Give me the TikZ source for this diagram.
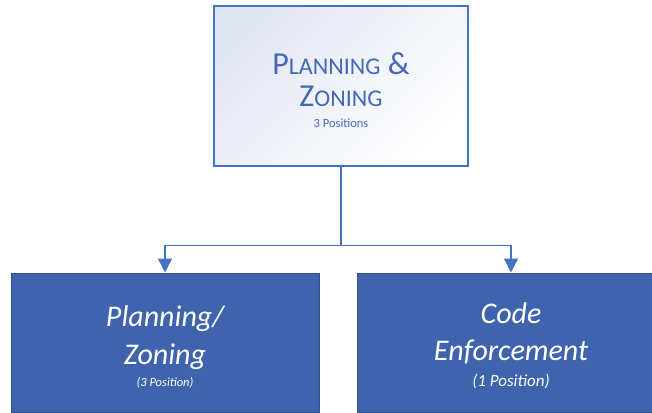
\documentclass[tikz,border=0pt]{standalone}
\usepackage{fontspec}
\setmainfont{Carlito}
\usetikzlibrary{arrows.meta,positioning}

\definecolor{orgblue}{RGB}{68,114,196}
\definecolor{orgtext}{RGB}{65,105,182}
\definecolor{orgfill}{RGB}{63,100,173}
\definecolor{orgedge}{RGB}{47,82,143}
\definecolor{orgtint}{RGB}{226,230,243}

\tikzset{
  headbox/.style={draw=orgblue,line width=1.3pt,top color=orgtint,bottom color=white,
    shading angle=45,minimum width=254pt,minimum height=160pt,inner sep=0pt},
  unitbox/.style={draw=orgedge,line width=1pt,fill=orgfill,minimum width=308pt,
    minimum height=139pt,inner sep=0pt},
  headtext/.style={text=orgtext,align=center,inner sep=0pt,font=\fontsize{32}{32}\selectfont},
  unittext/.style={text=white,align=center,inner sep=0pt,font=\fontsize{30}{38}\selectfont\itshape},
  link/.style={draw=orgblue,line width=1.3pt,-{Triangle[length=14pt,width=14pt]}},
}
\newcommand\smc[1]{{\fontsize{24}{32}\selectfont #1}}

\begin{document}
\begin{tikzpicture}[x=1pt,y=-1pt]
    \useasboundingbox (0,0) rectangle (652,412);
    \clip (0,0) rectangle (652,412);
    % department and its two divisions
    \node[headbox](head)at(341,86){};
    \node[unitbox](plan)at(165,342.5){};
    \node[unitbox](code)at(511,342.5){};
    \node[headtext](headlbl)at([yshift=-4pt]head.center){%
      P\smc{LANNING} \&\\
      Z\smc{ONING}\\[-11pt]
      {\fontsize{12.5}{14}\selectfont 3 Positions}};
    \node[unittext](planlbl)at([yshift=-4pt]plan.center){%
      Planning/\\
      Zoning\\[-16pt]
      {\fontsize{12.5}{13}\selectfont (3 Position)}};
    \node[unittext](codelbl)at([yshift=-3.5pt]code.center){%
      Code\\[-1pt]
      Enforcement\\[-12pt]
      {\fontsize{17}{19}\selectfont (1 Position)}};
    % reporting lines
    \draw[link](head.south)--++(0,79)-|(plan.north);
    \draw[link](head.south)--++(0,79)-|(code.north);
\end{tikzpicture}
\end{document}
